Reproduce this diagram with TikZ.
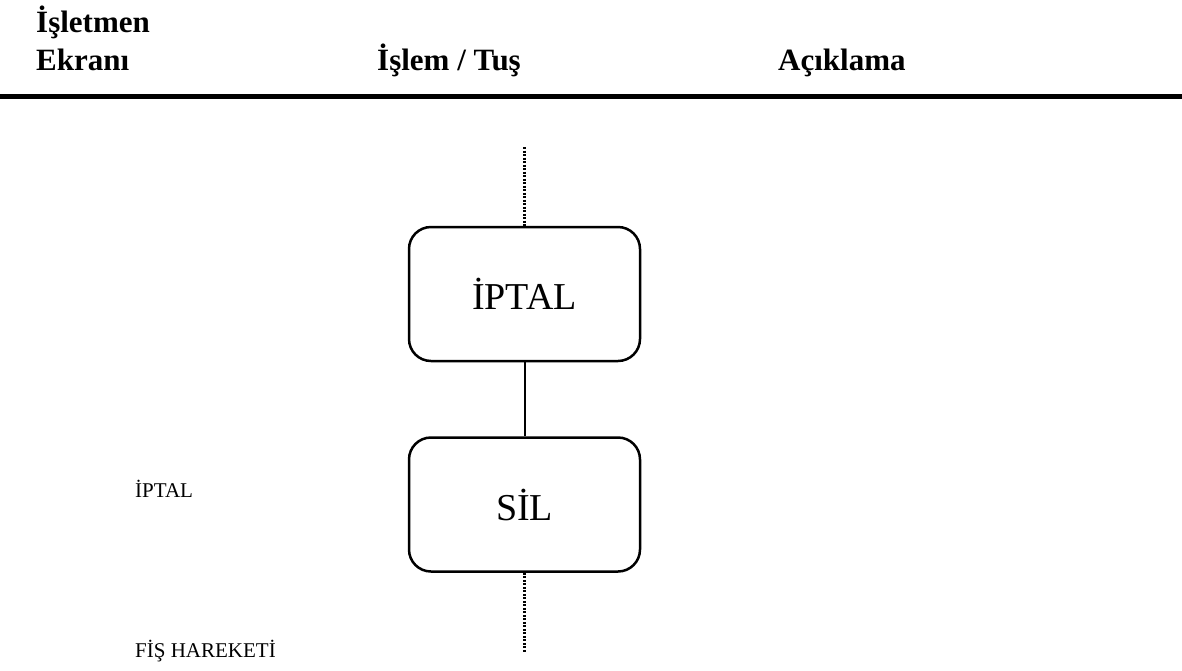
\documentclass[tikz,border=0pt]{standalone}
\usepackage{fontspec}
\setmainfont{Liberation Serif}
\begin{document}
\begin{tikzpicture}[x=1pt,y=-1pt,
  head/.style={anchor=base west,inner sep=0pt,font=\fontsize{31}{36}\selectfont\bfseries},
  lbl/.style={anchor=base west,inner sep=0pt,font=\fontsize{21}{25}\selectfont},
  keybox/.style={draw,line width=2.5pt,rounded corners=22pt,minimum width=231pt,minimum height=134pt,inner sep=0pt,font=\fontsize{38}{43}\selectfont},
  link/.style={line width=2pt},
  dots/.style={line width=2.2pt,dash pattern=on 2pt off 1.5pt}]
\useasboundingbox (0,0) rectangle (1182,670);
\node[head] (h1) at (36,32) {İşletmen};
\node[head] (h2) at (36,70) {Ekranı};
\node[head] (h3) at (377,70) {İşlem / Tuş};
\node[head] (h4) at (778,70) {Açıklama};
\draw[line width=5pt] (0,96) -- (1182,96);
\node[keybox] (iptal) at (524.5,294) {İPTAL};
\node[keybox] (sil) at (524.5,504.5) {SİL};
\coordinate (top) at (524.5,147);
\coordinate (bot) at (524.5,652);
\draw[dots] (top) -- (iptal.north);
\draw[link] (iptal.south) -- (sil.north);
\draw[dots] (sil.south) -- (bot);
\node[lbl] (l1) at (135,497) {İPTAL};
\node[lbl] (l2) at (135,657) {FİŞ HAREKETİ};
\end{tikzpicture}
\end{document}
